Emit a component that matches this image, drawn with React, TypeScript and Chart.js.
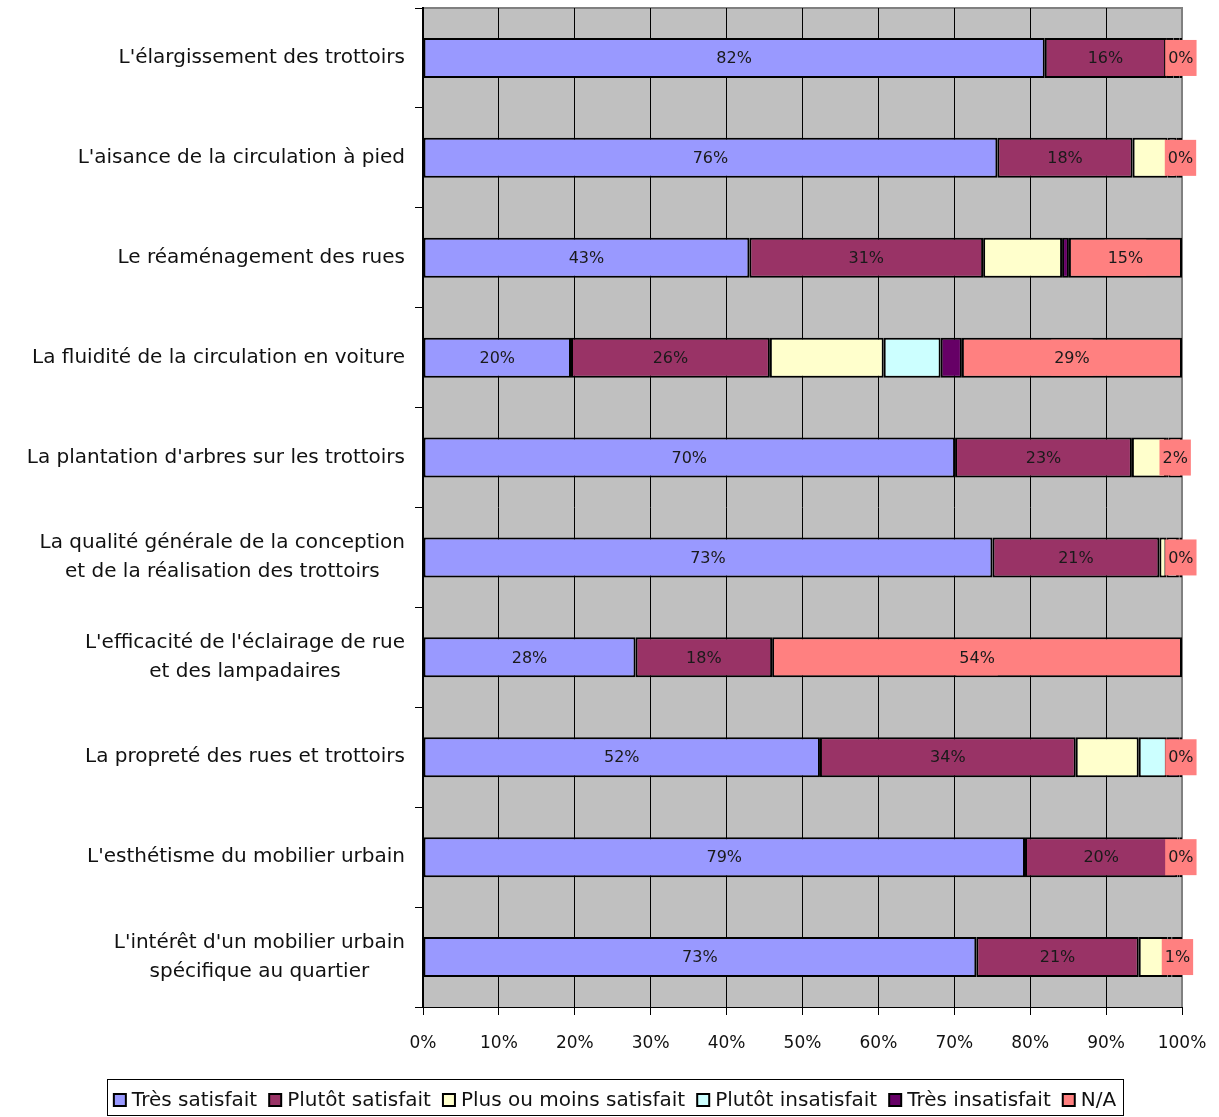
import React, { useEffect, useRef } from "react";
import { Chart, registerables } from "chart.js";
Chart.register(...registerables);

const categories: string[][] = [
  ["L'élargissement des trottoirs"],
  ["L'aisance de la circulation à pied"],
  ["Le réaménagement des rues"],
  ["La fluidité de la circulation en voiture"],
  ["La plantation d'arbres sur les trottoirs"],
  ["La qualité générale de la conception", "et de la réalisation des trottoirs"],
  ["L'efficacité de l'éclairage de rue", "et des lampadaires"],
  ["La propreté des rues et trottoirs"],
  ["L'esthétisme du mobilier urbain"],
  ["L'intérêt d'un mobilier urbain", "spécifique au quartier"],
];

const seriesNames = [
  "Très satisfait",
  "Plutôt satisfait",
  "Plus ou moins satisfait",
  "Plutôt insatisfait",
  "Très insatisfait",
  "N/A",
];
const seriesColors = ["#9999FF", "#993366", "#FFFFCC", "#CCFFFF", "#660066", "#FF8080"];

const tresSatisfait = [82, 75.6, 43, 19.5, 70.1, 73, 28, 52.3, 79, 72.9];
const plutotSatisfait = [16, 17.8, 30.8, 26.2, 23.3, 21.4, 18, 33.7, 20, 21.4];
const plusOuMoins = [1, 4.6, 10.4, 15, 4.5, 0.9, 0, 8.3, 0, 3.8];
const plutotInsatisfait = [0.8, 1.2, 0, 7.5, 0.3, 1.5, 0, 3.7, 0.3, 0.5];
const tresInsatisfait = [0, 0.3, 0.9, 2.8, 0, 0.2, 0, 1.7, 0, 0.2];
const na = [0.3, 0.4, 14.9, 29, 1.8, 0.3, 54, 0.3, 0.3, 1.2];

const labeledSeries = [0, 1, 5];
const xTickValues = [0, 10, 20, 30, 40, 50, 60, 70, 80, 90, 100];

const FONT = "'DejaVu Sans', sans-serif";

export default function App() {
  const ref = useRef<HTMLCanvasElement | null>(null);

  useEffect(() => {
    const raw = [tresSatisfait, plutotSatisfait, plusOuMoins, plutotInsatisfait, tresInsatisfait, na];
    const totals = categories.map((_, i) => raw.reduce((s, arr) => s + arr[i], 0));
    const datasets = raw.map((arr, si) => ({
      label: seriesNames[si],
      data: arr.map((v, i) => (v / totals[i]) * 100),
      rawValues: arr,
      backgroundColor: seriesColors[si],
      borderColor: "#000",
      borderWidth: 2,
      borderSkipped: false,
      barPercentage: 0.4,
      categoryPercentage: 1,
    }));

    const bgPlugin = {
      id: "bg",
      beforeDraw(chart: any) {
        const { ctx, chartArea: a } = chart;
        ctx.save();
        ctx.fillStyle = "#C0C0C0";
        ctx.fillRect(a.left, a.top, a.right - a.left, a.bottom - a.top);
        ctx.strokeStyle = "#808080";
        ctx.lineWidth = 2;
        ctx.beginPath();
        ctx.moveTo(a.left, a.top);
        ctx.lineTo(a.right, a.top);
        ctx.lineTo(a.right, a.bottom);
        ctx.stroke();
        ctx.restore();
      },
    };

    const labelPlugin = {
      id: "labels",
      afterDatasetsDraw(chart: any) {
        const ctx = chart.ctx;
        ctx.save();
        ctx.font = `16px ${FONT}`;
        ctx.textAlign = "center";
        ctx.textBaseline = "middle";
        labeledSeries.forEach((si) => {
          const meta = chart.getDatasetMeta(si);
          const rv = (chart.data.datasets[si] as any).rawValues as number[];
          meta.data.forEach((el: any, i: number) => {
            const v = rv[i];
            const cx = (el.x + el.base) / 2;
            const cy = el.y;
            const txt = Math.round(v) + "%";
            if (si === 5) {
              const w = ctx.measureText(txt).width + 6;
              ctx.fillStyle = seriesColors[5];
              ctx.fillRect(cx - w / 2, cy - 18, w, 36);
            }
            ctx.fillStyle = "#1a1a1a";
            ctx.fillText(txt, cx, cy + 1);
          });
        });
        ctx.restore();
      },
      afterDraw(chart: any) {
        const ctx = chart.ctx;
        const yScale = chart.scales.y;
        ctx.save();
        // category labels
        ctx.font = `20px ${FONT}`;
        ctx.fillStyle = "#111";
        ctx.textAlign = "center";
        ctx.textBaseline = "middle";
        const rightEdge = yScale.right - 18;
        categories.forEach((lines, i) => {
          const yc = yScale.getPixelForValue(i);
          const maxW = Math.max(...lines.map((l) => ctx.measureText(l).width));
          const cx = rightEdge - maxW / 2;
          const lh = 29;
          lines.forEach((l, k) => {
            const y = yc + (k - (lines.length - 1) / 2) * lh;
            ctx.fillText(l, cx, y);
          });
        });
        // legend
        ctx.font = `20px ${FONT}`;
        ctx.textAlign = "left";
        const box = 12;
        const gapBoxText = 6;
        const gapItems = 12;
        const widths = seriesNames.map((n) => ctx.measureText(n).width);
        const total =
          widths.reduce((s, w) => s + box + gapBoxText + w, 0) + gapItems * (seriesNames.length - 1);
        const center = 615;
        let x = center - total / 2;
        const ly = 1100;
        ctx.strokeStyle = "#000";
        ctx.lineWidth = 1;
        ctx.strokeRect(Math.round(x - 7) + 0.5, 1079.5, Math.round(total + 14), 36);
        seriesNames.forEach((n, i) => {
          ctx.fillStyle = seriesColors[i];
          ctx.fillRect(x, ly - box / 2, box, box);
          ctx.lineWidth = 2;
          ctx.strokeRect(x, ly - box / 2, box, box);
          ctx.fillStyle = "#111";
          ctx.fillText(n, x + box + gapBoxText, ly + 1);
          x += box + gapBoxText + widths[i] + gapItems;
        });
        ctx.restore();
      },
    };

    const chart = new Chart(ref.current as HTMLCanvasElement, {
      type: "bar",
      data: { labels: categories.map((c) => c.join(" ")), datasets: datasets as any },
      options: {
        indexAxis: "y",
        animation: false,
        responsive: false,
        devicePixelRatio: 1,
        layout: { padding: { top: 8, right: 37, left: 0, bottom: 0 } },
        plugins: { legend: { display: false }, tooltip: { enabled: false } },
        scales: {
          x: {
            stacked: true,
            min: 0,
            max: 100,
            afterBuildTicks(scale: any) {
              scale.ticks = xTickValues.map((v) => ({ value: v }));
            },
            afterFit(scale: any) {
              scale.height = 110;
              scale.paddingLeft = 0;
              scale.paddingRight = 0;
            },
            grid: {
              color: (c: any) => (c.tick && c.tick.value === 100 ? "#808080" : "#000"),
              tickColor: "#000",
              tickLength: 8,
              lineWidth: 1,
            },
            border: { display: true, color: "#000", width: 1 },
            ticks: {
              callback: (v: any) => v + "%",
              font: { family: "'DejaVu Sans', sans-serif", size: 17 },
              color: "#111",
              padding: 18,
              maxRotation: 0,
            },
          },
          y: {
            stacked: true,
            afterFit(scale: any) {
              scale.width = 423;
              scale.paddingTop = 0;
              scale.paddingBottom = 0;
            },
            grid: {
              offset: true,
              drawOnChartArea: false,
              drawTicks: true,
              tickLength: 8,
              color: "#000",
            },
            border: { display: true, color: "#000", width: 2 },
            ticks: { display: false },
          },
        },
      },
      plugins: [bgPlugin, labelPlugin],
    });
    return () => chart.destroy();
  }, []);

  return (
    <div style={{ position: "fixed", left: 0, top: 0, width: 1219, height: 1117, background: "#fff" }}>
      <canvas ref={ref} width={1219} height={1117} style={{ display: "block" }} />
    </div>
  );
}
